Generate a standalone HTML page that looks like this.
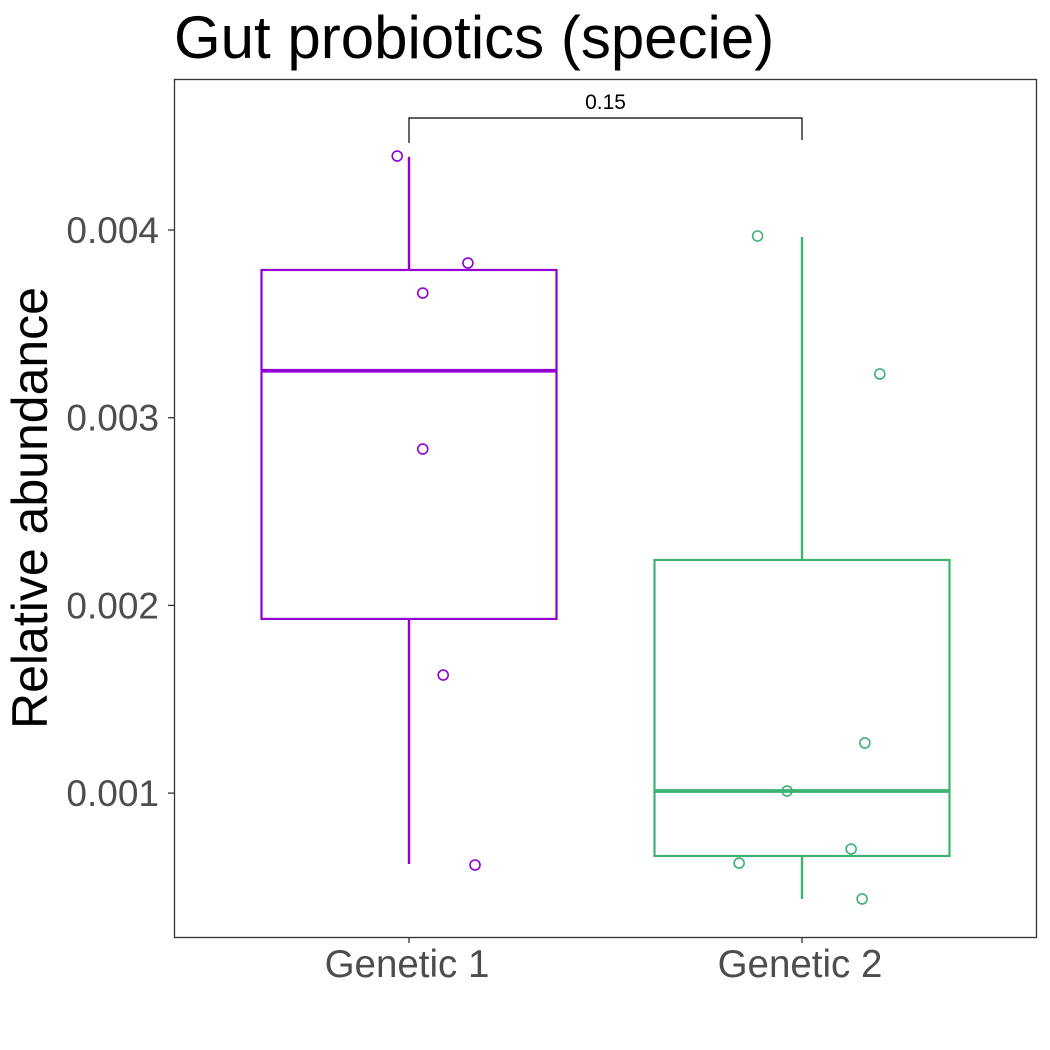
<!DOCTYPE html>
<html><head><meta charset="utf-8"><style>
body{margin:0;background:#fff}
svg{display:block;font-family:"Liberation Sans",Arial,sans-serif}
</style></head><body>
<svg id="chart" width="1050" height="1050" viewBox="0 0 1050 1050">
<rect width="1050" height="1050" fill="#fff"/>
<text x="174" y="58" font-size="60" fill="#000">Gut probiotics (specie)</text>
<text transform="translate(47,508) rotate(-90)" text-anchor="middle" font-size="50" fill="#000">Relative abundance</text>
<g id="marks"></g>
<rect x="174.5" y="79.5" width="862" height="858" fill="none" stroke="#333" stroke-width="1.3"/>
</svg>
<script>
const categories = ["Genetic 1", "Genetic 2"];
const colors = ["#9400D3", "#3CB371"];
const q1 = [0.001928, 0.000665];
const medians = [0.00325, 0.001011];
const q3 = [0.003787, 0.002242];
const whiskerLow = [0.000622, 0.000436];
const whiskerHigh = [0.00439, 0.003963];
const pointsG1 = [0.004394, 0.003824, 0.003664, 0.002833, 0.001629, 0.000617];
const jitterG1 = [-0.03, 0.15, 0.035, 0.035, 0.087, 0.168];
const pointsG2 = [0.003968, 0.003233, 0.001267, 0.001011, 0.000702, 0.000627, 0.000436];
const jitterG2 = [-0.113, 0.198, 0.16, -0.038, 0.125, -0.16, 0.153];
const yTicks = [0.001, 0.002, 0.003, 0.004];
const yTickLabels = ["0.001", "0.002", "0.003", "0.004"];
const pValue = "0.15";

const NS = "http://www.w3.org/2000/svg";
const g = document.getElementById("marks");
function y(v){ return 230 + (0.004 - v) * 187700; }
function x(i){ return 409 + i * 393; }
const band = 393;
function mk(tag, attrs, parent){
  const e = document.createElementNS(NS, tag);
  for (const k in attrs) e.setAttribute(k, attrs[k]);
  (parent || g).appendChild(e);
  return e;
}
yTicks.forEach((t, i) => {
  const tk = mk("line", {x1:168, x2:174, y1:y(t), y2:y(t), stroke:"#333", "stroke-width":1.3});
  
  
  const lb = mk("text", {x:159, y:y(t)+13, "text-anchor":"end", "font-size":37, fill:"#4D4D4D"});
  lb.textContent = yTickLabels[i];
  
  
});
categories.forEach((c, i) => {
  const tk = mk("line", {x1:x(i), x2:x(i), y1:937, y2:943, stroke:"#333", "stroke-width":1.3});
  
  
  const lb = mk("text", {x:x(i)-2, y:977, "text-anchor":"middle", "font-size":38.5, fill:"#4D4D4D"});
  lb.textContent = c;
  
  
  const col = colors[i];
  const hw = 147.5;
  const grp = mk("g", {});
  
  
  mk("line", {x1:x(i), x2:x(i), y1:y(q3[i]), y2:y(whiskerHigh[i]), stroke:col, "stroke-width":2.4}, grp);
  mk("line", {x1:x(i), x2:x(i), y1:y(q1[i]), y2:y(whiskerLow[i]), stroke:col, "stroke-width":2.4}, grp);
  mk("rect", {x:x(i)-hw, y:y(q3[i]), width:2*hw, height:y(q1[i])-y(q3[i]), fill:"none", stroke:col, "stroke-width":2.2}, grp);
  mk("line", {x1:x(i)-hw, x2:x(i)+hw, y1:y(medians[i]), y2:y(medians[i]), stroke:col, "stroke-width":3.8}, grp);
});
[[pointsG1, jitterG1], [pointsG2, jitterG2]].forEach(([pts, jit], i) => {
  pts.forEach((v, j) => {
    const c = mk("circle", {cx:x(i) + jit[j]*band, cy:y(v), r:5, fill:"none", stroke:colors[i], "stroke-width":1.6});
    
    
  });
});
const br = mk("path", {d:`M${x(0)},143V118H${x(1)}V140`, fill:"none", stroke:"#000", "stroke-width":1.2});


const pl = mk("text", {x:(x(0)+x(1))/2, y:109, "text-anchor":"middle", "font-size":21, fill:"#000"});
pl.textContent = pValue;


</script>
</body></html>
